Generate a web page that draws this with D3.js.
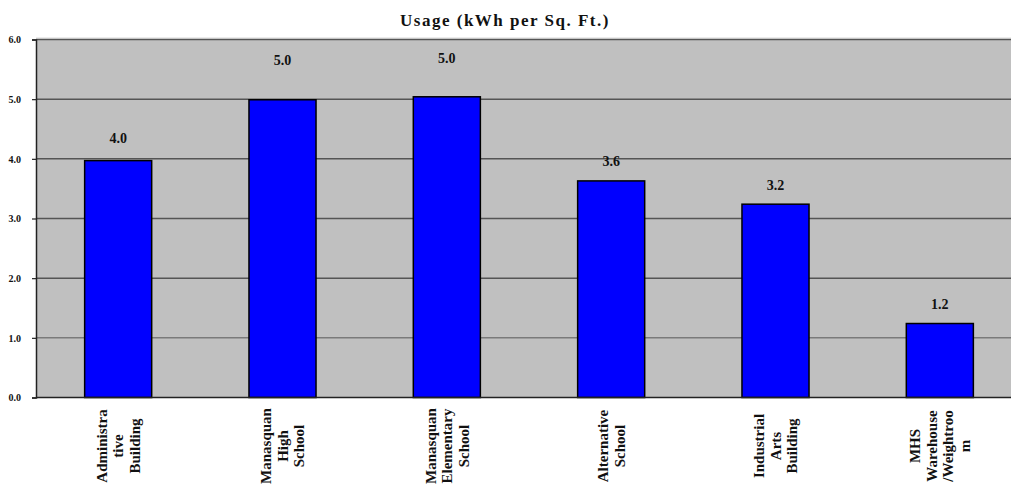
<!DOCTYPE html>
<html>
<head>
<meta charset="utf-8">
<script src="https://cdn.jsdelivr.net/npm/d3@7"></script>
<style>
html,body{margin:0;padding:0;background:#fff;overflow:hidden;}
svg{display:block;}
</style>
</head>
<body>
<svg id="chart" width="1011" height="490"></svg>
<script>
// ---- data ----
const categories = [
  ["Administra", "tive", "Building"],
  ["Manasquan", "High", "School"],
  ["Manasquan", "Elementary", "School"],
  ["Alternative", "School"],
  ["Industrial", "Arts", "Building"],
  ["MHS", "Warehouse", "/Weightroo", "m"]
];
const usage = [3.97, 4.99, 5.04, 3.63, 3.24, 1.24];
const yTicks = [0, 1, 2, 3, 4, 5, 6];
const chartTitle = "Usage (kWh per Sq. Ft.)";

// ---- layout ----
const labelLift = [18, 35, 34, 15, 14, 15];
const plot = {left: 36, top: 39.5, right: 1022, bottom: 397.5};
const serif = "'Liberation Serif','Times New Roman',serif";

const svg = d3.select("#chart");

const x = d3.scaleBand()
  .domain(d3.range(categories.length))
  .range([plot.left, plot.right])
  .paddingInner(0.592)
  .paddingOuter(0.296);

const y = d3.scaleLinear().domain([0, 6]).range([plot.bottom, plot.top]);

// plot background
svg.append("rect")
  .attr("x", plot.left).attr("y", plot.top)
  .attr("width", plot.right - plot.left).attr("height", plot.bottom - plot.top)
  .attr("fill", "#c0c0c0");

// light line above plot
svg.append("line")
  .attr("x1", plot.left).attr("x2", plot.right)
  .attr("y1", plot.top - 1.5).attr("y2", plot.top - 1.5)
  .attr("stroke", "#d8d8d8").attr("stroke-width", 1);

// gridlines
svg.append("g").selectAll("line")
  .data(yTicks.filter(d => d > 0))
  .join("line")
  .attr("x1", plot.left).attr("x2", plot.right)
  .attr("y1", d => y(d)).attr("y2", d => y(d))
  .attr("stroke", d => d === 1 ? "#7a7a7a" : "#555")
  .attr("stroke-width", 1.5);

// y axis
const yAxis = svg.append("g")
  .attr("transform", `translate(${plot.left},0)`)
  .call(d3.axisLeft(y).tickValues(yTicks).tickFormat(d3.format(".1f")).tickSize(4).tickPadding(11));
yAxis.select(".domain").attr("stroke", "#222").attr("stroke-width", 1.5);
yAxis.selectAll(".tick line").attr("stroke", "#222").attr("stroke-width", 1.2);
yAxis.selectAll(".tick text")
  .attr("font-family", serif).attr("font-weight", "bold")
  .attr("font-size", "10px").attr("fill", "#111");

// bars
svg.append("g").selectAll("rect")
  .data(usage)
  .join("rect")
  .attr("x", (d, i) => x(i))
  .attr("y", d => y(d))
  .attr("width", x.bandwidth())
  .attr("height", d => y(0) - y(d))
  .attr("fill", "#0000ff")
  .attr("stroke", "#000")
  .attr("stroke-width", 1.5);

// x axis baseline
svg.append("line")
  .attr("x1", plot.left).attr("x2", plot.right)
  .attr("y1", y(0)).attr("y2", y(0))
  .attr("stroke", "#222").attr("stroke-width", 1.5);

// value labels
svg.append("g").selectAll("text")
  .data(usage)
  .join("text")
  .attr("x", (d, i) => x(i) + x.bandwidth() / 2)
  .attr("y", (d, i) => y(d) - labelLift[i])
  .attr("text-anchor", "middle")
  .attr("font-family", serif).attr("font-weight", "bold")
  .attr("font-size", "14px").attr("fill", "#111")
  .text(d => d.toFixed(1));

// category labels (rotated)
const lineGap = 16.5;
const catG = svg.append("g").selectAll("text")
  .data(categories)
  .join("text")
  .attr("transform", (d, i) => `translate(${x(i) + x.bandwidth() / 2},446) rotate(-90)`)
  .attr("text-anchor", "middle")
  .attr("font-family", serif).attr("font-weight", "bold")
  .attr("font-size", "15px").attr("fill", "#111");
catG.each(function(lines) {
  const t = d3.select(this);
  const n = lines.length;
  lines.forEach((ln, k) => {
    t.append("tspan")
      .attr("x", 0)
      .attr("y", (k - (n - 1) / 2) * lineGap)
      .attr("dy", "0.35em")
      .text(ln);
  });
});

// title
svg.append("text")
  .attr("x", 505).attr("y", 26)
  .attr("text-anchor", "middle")
  .attr("font-family", serif).attr("font-weight", "bold")
  .attr("font-size", "17px").attr("letter-spacing", "1.5px").attr("fill", "#111")
  .text(chartTitle);
</script>
</body>
</html>
